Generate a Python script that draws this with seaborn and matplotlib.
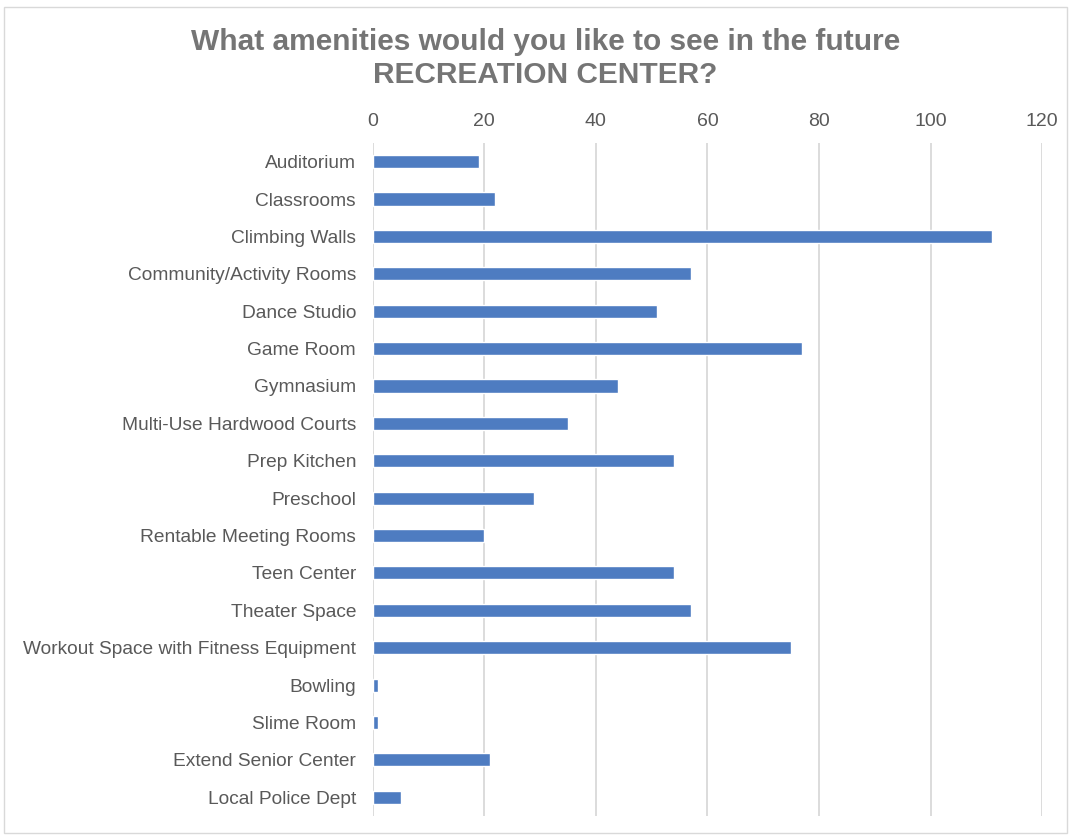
import numpy as np
import pandas as pd
import seaborn as sns
import matplotlib.pyplot as plt
from matplotlib.patches import Rectangle

amenities = ['Auditorium', 'Classrooms', 'Climbing Walls', 'Community/Activity Rooms',
             'Dance Studio', 'Game Room', 'Gymnasium', 'Multi-Use Hardwood Courts',
             'Prep Kitchen', 'Preschool', 'Rentable Meeting Rooms', 'Teen Center',
             'Theater Space', 'Workout Space with Fitness Equipment', 'Bowling',
             'Slime Room', 'Extend Senior Center', 'Local Police Dept']
votes = [19, 22, 111, 57, 51, 77, 44, 35, 54, 29, 20, 54, 57, 75, 1, 1, 21, 5]
xticks = [0, 20, 40, 60, 80, 100, 120]

sns.set_style('white')
plt.rcParams['font.family'] = ['Liberation Sans', 'DejaVu Sans']

data = pd.DataFrame({'amenity': amenities, 'votes': votes})

fig = plt.figure(figsize=(10.71, 8.36), dpi=100)
ax = fig.add_axes([0.348, 0.024, 0.625, 0.805])

sns.barplot(data=data, x='votes', y='amenity', orient='h', color='#4E7CC1',
            width=0.35, saturation=1, ax=ax)

ax.set_xlim(0, 120)
ax.set_xticks(xticks)
ax.xaxis.tick_top()
ax.tick_params(axis='x', length=0, pad=9, labelsize=14, labelcolor='#595959')
ax.tick_params(axis='y', length=0, pad=12, labelsize=13.8, labelcolor='#595959')
ax.set_xlabel('')
ax.set_ylabel('')
ax.grid(axis='x', color='#D9D9D9', linewidth=1.3)
ax.set_axisbelow(True)
for s in ax.spines.values():
    s.set_visible(False)

fig.suptitle('What amenities would you like to see in the future\nRECREATION CENTER?',
             x=0.509, y=0.966, fontsize=21.5, fontweight='bold', color='#757575',
             linespacing=1.2)

fig.patches.append(Rectangle((0.004, 0.004), 0.992, 0.988, transform=fig.transFigure,
                             fill=False, edgecolor='#D9D9D9', linewidth=1))

fig.savefig('out.png', dpi=100)
